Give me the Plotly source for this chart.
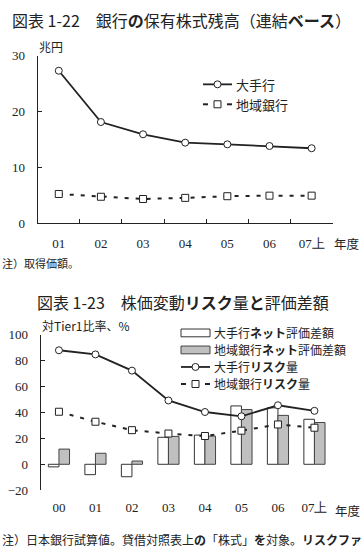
import plotly.graph_objects as go

# ---------------- data ----------------
years1 = ['01', '02', '03', '04', '05', '06', '07上']
major_holdings = [27.3, 18.1, 15.9, 14.4, 14.1, 13.8, 13.4]
regional_holdings = [5.2, 4.7, 4.3, 4.5, 4.8, 4.9, 4.9]

years2 = ['00', '01', '02', '03', '04', '05', '06', '07上']
major_net = [-2.0, -8.0, -9.6, 20.8, 22.5, 45.0, 43.5, 34.7]
regional_net = [11.7, 8.5, 2.5, 21.5, 21.7, 42.2, 37.7, 32.2]
major_risk = [87.9, 84.7, 72.2, 49.2, 40.3, 37.0, 45.5, 41.2]
regional_risk = [40.5, 32.8, 26.3, 23.7, 21.8, 25.9, 30.7, 28.2]

ticks1 = [0, 10, 20, 30]
ticks2 = [-20, 0, 20, 40, 60, 80, 100]

# ---------------- layout helpers ----------------
W, H = 362, 553
def px(x):
    return x / W
def py(y):
    return 1 - y / H

INK = '#222222'
JP = 'Noto Sans CJK JP'
SERIF = 'Liberation Serif, Times New Roman, DejaVu Serif, serif'

x1dom = [px(37.7), px(332.7)]
y1dom = [py(222), py(50)]
x2dom = [px(40.7), px(332.7)]
y2dom = [py(496.7), py(336.7)]
y2range = [-20, 100]
zero_pos = y2dom[0] + (0 - y2range[0]) / (y2range[1] - y2range[0]) * (y2dom[1] - y2dom[0])

fig = go.Figure()

line_style = dict(color=INK, width=1.8)
dash_style = dict(color=INK, width=2, dash='4px,7px')
circ = dict(symbol='circle', size=7, color='white', line=dict(color=INK, width=1))
sq = dict(symbol='square', size=7, color='white', line=dict(color=INK, width=1))

# ---- chart 1 ----
fig.add_trace(go.Scatter(x=years1, y=major_holdings, mode='lines+markers', line=line_style,
                         marker=circ, xaxis='x', yaxis='y', name='大手行', showlegend=False))
fig.add_trace(go.Scatter(x=years1, y=regional_holdings, mode='lines+markers', line=dash_style,
                         marker=sq, xaxis='x', yaxis='y', name='地域銀行', showlegend=False))

# ---- chart 2 ----
fig.add_trace(go.Bar(x=years2, y=major_net, marker=dict(color='white', line=dict(color='#333333', width=1)),
                     xaxis='x2', yaxis='y2', name='大手行ネット評価差額', showlegend=False))
fig.add_trace(go.Bar(x=years2, y=regional_net, marker=dict(color='#c0c0c0', line=dict(color='#444444', width=1)),
                     xaxis='x2', yaxis='y2', name='地域銀行ネット評価差額', showlegend=False))
fig.add_trace(go.Scatter(x=years2, y=major_risk, mode='lines+markers', line=line_style,
                         marker=circ, xaxis='x2', yaxis='y2', name='大手行リスク量', showlegend=False))
fig.add_trace(go.Scatter(x=years2, y=regional_risk, mode='lines+markers', line=dash_style,
                         marker=sq, xaxis='x2', yaxis='y2', name='地域銀行リスク量', showlegend=False))

tickfont = dict(family=SERIF, size=13, color=INK)

fig.update_layout(
    width=W, height=H, margin=dict(l=0, r=0, t=0, b=0),
    paper_bgcolor='white', plot_bgcolor='white',
    barmode='group', bargap=0.42, bargroupgap=0,
    showlegend=False,
    xaxis=dict(domain=x1dom, anchor='y', type='category', range=[-0.5, len(years1) - 0.5],
               showline=True, linecolor=INK, linewidth=1, ticks='inside', tickson='boundaries',
               ticklen=4, tickcolor=INK, showgrid=False, zeroline=False, tickfont=tickfont,
               ticklabelstandoff=8),
    yaxis=dict(domain=y1dom, anchor='x', range=[0, 30], tickvals=ticks1,
               showline=True, linecolor=INK, linewidth=1, ticks='inside', ticklen=4, tickcolor=INK,
               showgrid=False, zeroline=False, tickfont=tickfont, ticklabelstandoff=9),
    xaxis2=dict(domain=x2dom, anchor='y2', type='category', range=[-0.5, len(years2) - 0.5],
                showline=False, ticks='', showgrid=False, zeroline=False, tickfont=tickfont,
                ticklabelstandoff=8),
    xaxis3=dict(overlaying='x2', anchor='free', position=zero_pos, range=[-0.5, len(years2) - 0.5],
                tickvals=[i - 0.5 for i in range(len(years2) + 1)], showticklabels=False,
                showline=True, linecolor=INK, linewidth=1, ticks='inside', ticklen=4, tickcolor=INK,
                showgrid=False, zeroline=False),
    yaxis2=dict(domain=y2dom, anchor='x2', range=y2range, tickvals=ticks2,
                showline=True, linecolor=INK, linewidth=1, ticks='inside', ticklen=4, tickcolor=INK,
                showgrid=False, zeroline=False, tickfont=tickfont, ticklabelstandoff=9),
)

ann = []
def text(x, y, s, size=13, family=JP, anchor='left', h=None):
    a = dict(x=px(x), y=py(y), xref='paper', yref='paper', text=s, showarrow=False,
             xanchor=anchor, yanchor='middle', font=dict(family=family, size=size, color=INK))
    if h:
        a['height'] = h
    ann.append(a)

text(10, 13, '図表 1-22　銀行<b>の</b>保有株式残高（連結<b>ベース</b>）', size=16)
text(37, 41, '兆円', size=12)
text(332, 243, '年度', size=12.5)
text(0, 263, '注）取得価額。', size=11)

text(35, 303, '図表 1-23　株価変動<b>リスク</b>量<b>と</b>評価差額', size=16)
text(40, 327, '対Tier1比率、%', size=12)
text(333, 518, '年度', size=12.5)
text(0, 547, '注）日本銀行試算値。貸借対照表上<b>の</b>「株式」<b>を</b>対象。<b>リスクファクター</b>', size=12)

# manual legends
shapes = []
def seg(x0, x1, y, width=1.8):
    shapes.append(dict(type='line', xref='paper', yref='paper', x0=px(x0), x1=px(x1),
                       y0=py(y), y1=py(y), line=dict(color=INK, width=width)))
def mark(x, y, kind):
    shapes.append(dict(type='circle' if kind == 'c' else 'rect', xref='paper', yref='paper',
                       xsizemode='pixel', ysizemode='pixel', xanchor=px(x), yanchor=py(y),
                       x0=-3.5, x1=3.5, y0=-3.5, y1=3.5, fillcolor='white',
                       line=dict(color=INK, width=1)))
def box(x0, x1, y, fill, lc):
    shapes.append(dict(type='rect', xref='paper', yref='paper', x0=px(x0), x1=px(x1),
                       y0=py(y + 4), y1=py(y - 4), fillcolor=fill, line=dict(color=lc, width=1)))

# legend chart 1
seg(203, 232, 79.5)
mark(217.5, 79.5, 'c')
text(234, 79.5, '大手行')
seg(203, 208, 100, width=2)
seg(227, 232, 100, width=2)
mark(217.5, 100, 's')
text(234, 100, '地域銀行')

# legend chart 2
rows = [335, 352.5, 370, 387.5]
box(181, 210, rows[0], 'white', '#333333')
text(212, rows[0], '大手行<b>ネット</b>評価差額', size=12, h=17)
box(181, 210, rows[1], '#c0c0c0', '#444444')
text(212, rows[1], '地域銀行<b>ネット</b>評価差額', size=12, h=17)
seg(181, 210, rows[2])
mark(195.5, rows[2], 'c')
text(212, rows[2], '大手行<b>リスク</b>量', size=12, h=17)
seg(181, 186, rows[3], width=2)
seg(205, 210, rows[3], width=2)
mark(195.5, rows[3], 's')
text(212, rows[3], '地域銀行<b>リスク</b>量', size=12, h=17)

fig.update_layout(annotations=ann, shapes=shapes)
fig.write_html('out.html')
